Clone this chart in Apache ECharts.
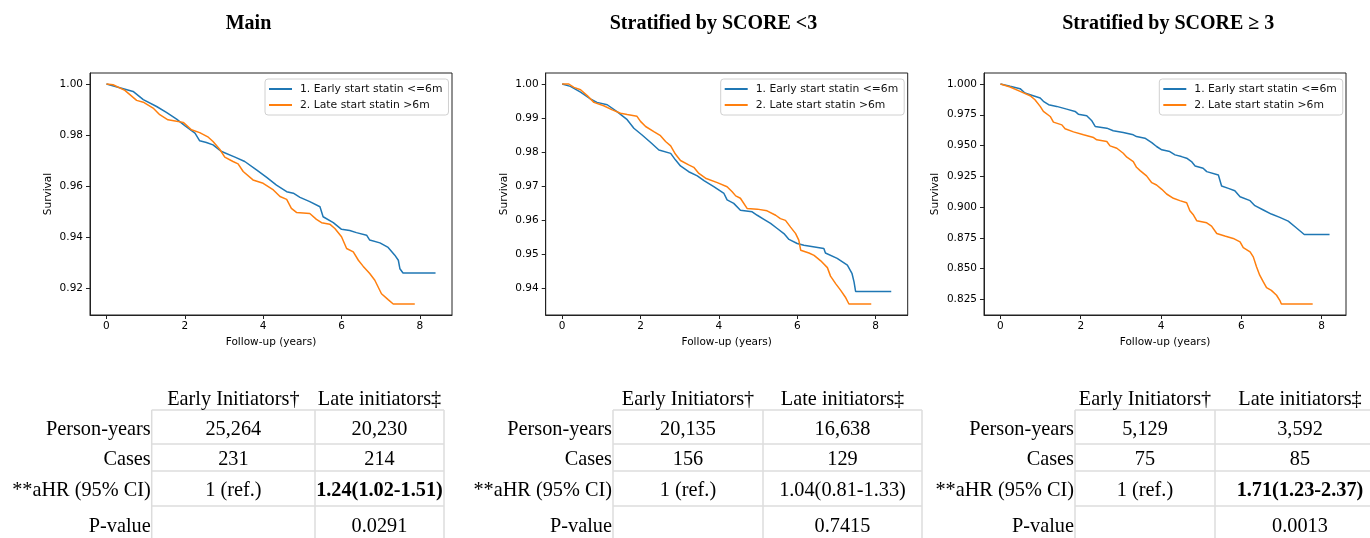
<!DOCTYPE html>
<html><head><meta charset="utf-8">
<script src="https://cdn.jsdelivr.net/npm/echarts@6/dist/echarts.min.js"></script>
<style>html,body{margin:0;padding:0;background:#fff}#c{width:1370px;height:538px}</style>
</head><body><div id="c"></div>
<script>
// ---------- data ----------
const panelTitles = ['Main', 'Stratified by SCORE <3', 'Stratified by SCORE \u2265 3'];
const seriesNames = ['1. Early start statin <=6m', '2. Late start statin >6m'];
const xAxisTitle = 'Follow-up (years)';
const yAxisTitle = 'Survival';
const xTicks = [0, 2, 4, 6, 8];
const mainYTicks = [0.92, 0.94, 0.96, 0.98, 1.00];
const lt3YTicks = [0.94, 0.95, 0.96, 0.97, 0.98, 0.99, 1.00];
const ge3YTicks = [0.825, 0.850, 0.875, 0.900, 0.925, 0.950, 0.975, 1.000];

// Main
const mainEarlyT = [0,0.68,0.94,1.28,1.53,1.79,2.0,2.26,2.38,2.55,2.72,2.94,3.28,3.53,3.83,4.09,4.34,4.6,4.77,4.94,5.19,5.45,5.53,5.79,6.0,6.21,6.38,6.64,6.72,6.98,7.19,7.36,7.45,7.49,7.57,8.4];
const mainEarlyS = [1.0,0.9971,0.9939,0.9912,0.9889,0.9863,0.9837,0.9808,0.9778,0.9771,0.9762,0.9736,0.9714,0.9697,0.9664,0.9635,0.9605,0.9579,0.9573,0.9557,0.9540,0.9520,0.9481,0.9458,0.9432,0.9427,0.9419,0.9409,0.9390,0.9379,0.9361,0.9331,0.9311,0.9278,0.9261,0.9261];
const mainLateT = [0,0.17,0.47,0.77,0.94,1.19,1.36,1.57,1.79,1.96,2.17,2.38,2.6,2.72,2.89,3.02,3.23,3.36,3.49,3.74,4.0,4.26,4.43,4.6,4.72,4.85,5.19,5.36,5.49,5.7,5.83,6.0,6.13,6.3,6.43,6.55,6.72,6.85,7.02,7.19,7.32,7.87];
const mainLateS = [1.0,0.9997,0.9975,0.9936,0.9929,0.9906,0.9880,0.9860,0.9854,0.9850,0.9821,0.9810,0.9792,0.9775,0.9745,0.9714,0.9697,0.9688,0.9658,0.9625,0.9612,0.9586,0.9560,0.9549,0.9514,0.9498,0.9494,0.9471,0.9458,0.9452,0.9435,0.9403,0.9357,0.9344,0.9311,0.9288,0.9259,0.9233,0.9180,0.9157,0.9140,0.9140];

// SCORE < 3
const lt3EarlyT = [0,0.21,0.47,0.72,0.89,1.15,1.40,1.66,1.83,2.04,2.26,2.47,2.77,2.89,3.02,3.23,3.45,3.62,3.87,4.13,4.21,4.38,4.55,4.85,4.98,5.15,5.32,5.49,5.66,5.79,6.0,6.17,6.68,6.72,7.02,7.28,7.4,7.45,7.49,8.4];
const lt3EarlyS = [1.0,0.9993,0.9976,0.9956,0.9946,0.9939,0.9919,0.9895,0.9870,0.9850,0.9828,0.9806,0.9796,0.9777,0.9759,0.9742,0.9730,0.9716,0.9698,0.9678,0.9659,0.9649,0.9629,0.9624,0.9614,0.9602,0.9590,0.9575,0.9560,0.9543,0.9531,0.9526,0.9516,0.9503,0.9487,0.9467,0.9442,0.9418,0.9390,0.9390];
const lt3LateT = [0,0.17,0.30,0.47,0.64,0.81,1.06,1.28,1.49,1.66,1.91,2.0,2.13,2.34,2.51,2.64,2.77,2.89,3.02,3.23,3.36,3.49,3.66,3.96,4.21,4.34,4.43,4.55,4.72,4.98,5.23,5.45,5.57,5.70,5.83,5.96,6.04,6.09,6.30,6.43,6.60,6.77,6.85,6.98,7.11,7.23,7.32,7.89];
const lt3LateS = [1.0,1.0,0.9990,0.9983,0.9966,0.9946,0.9936,0.9924,0.9914,0.9910,0.9905,0.9890,0.9875,0.9860,0.9848,0.9831,0.9818,0.9794,0.9775,0.9762,0.9755,0.9737,0.9723,0.9710,0.9698,0.9683,0.9671,0.9664,0.9634,0.9632,0.9627,0.9614,0.9604,0.9599,0.9579,0.9560,0.9541,0.9511,0.9503,0.9496,0.9480,0.9460,0.9435,0.9413,0.9393,0.9373,0.9353,0.9353];

// SCORE >= 3
const ge3EarlyT = [0,0.24,0.49,0.61,0.74,0.99,1.07,1.20,1.40,1.65,1.86,1.94,2.15,2.27,2.36,2.65,2.81,3.06,3.31,3.39,3.60,3.77,3.89,4.02,4.22,4.35,4.51,4.64,4.76,4.85,5.05,5.14,5.43,5.51,5.68,5.84,5.97,6.22,6.34,6.55,6.75,6.96,7.17,7.34,7.57,8.2];
const ge3EarlyS = [1.0,0.9981,0.9962,0.9927,0.9913,0.9886,0.9859,0.9832,0.9818,0.9796,0.9777,0.9755,0.9742,0.9704,0.9655,0.9641,0.9620,0.9606,0.9587,0.9573,0.9560,0.9524,0.9492,0.9465,0.9451,0.9424,0.9410,0.9397,0.9370,0.9334,0.9315,0.9288,0.9261,0.9171,0.9152,0.9133,0.9084,0.9052,0.9011,0.8976,0.8943,0.8916,0.8886,0.8840,0.8777,0.8777];
const ge3LateT = [0,0.24,0.49,0.74,0.86,0.99,1.07,1.24,1.32,1.53,1.61,1.82,2.07,2.32,2.40,2.65,2.73,2.90,3.06,3.15,3.31,3.39,3.48,3.64,3.77,3.89,4.02,4.14,4.31,4.47,4.64,4.72,4.81,4.89,5.14,5.26,5.39,5.59,5.80,5.97,6.05,6.22,6.30,6.38,6.46,6.55,6.63,6.75,6.88,6.96,7.00,7.78];
const ge3LateS = [1.0,0.9976,0.9940,0.9905,0.9872,0.9818,0.9777,0.9736,0.9690,0.9668,0.9636,0.9611,0.9587,0.9565,0.9546,0.9533,0.9497,0.9478,0.9437,0.9405,0.9370,0.9323,0.9296,0.9253,0.9198,0.9179,0.9144,0.9106,0.9071,0.9052,0.9035,0.8970,0.8935,0.8889,0.8872,0.8845,0.8785,0.8764,0.8745,0.8717,0.8671,0.8636,0.8595,0.8514,0.8446,0.8391,0.8345,0.8323,0.8283,0.8242,0.8212,0.8212];

// tables
const rowLabels = ['Person-years', 'Cases', '**aHR (95% CI)', 'P-value'];
const colHeaders = ['Early Initiators\u2020', 'Late initiators\u2021'];
const mainEarlyCol = ['25,264', '231', '1 (ref.)', ''];
const mainLateCol = ['20,230', '214', '1.24(1.02-1.51)', '0.0291'];
const lt3EarlyCol = ['20,135', '156', '1 (ref.)', ''];
const lt3LateCol = ['16,638', '129', '1.04(0.81-1.33)', '0.7415'];
const ge3EarlyCol = ['5,129', '75', '1 (ref.)', ''];
const ge3LateCol = ['3,592', '85', '1.71(1.23-2.37)', '0.0013'];
const boldAHR = [true, false, true];

// ---------- build ----------
const panels = [
  {early: [mainEarlyT, mainEarlyS], late: [mainLateT, mainLateS], yTicks: mainYTicks, dec: 2},
  {early: [lt3EarlyT, lt3EarlyS], late: [lt3LateT, lt3LateS], yTicks: lt3YTicks, dec: 2},
  {early: [ge3EarlyT, ge3EarlyS], late: [ge3LateT, ge3LateS], yTicks: ge3YTicks, dec: 3}
];
const tables = [
  [mainEarlyCol, mainLateCol], [lt3EarlyCol, lt3LateCol], [ge3EarlyCol, ge3LateCol]
];

// layout (pixels)
const gridLeft = [90, 545.7, 984];
const gridTop = 73, gridW = 362, gridH = 242;
const legendLeft = [265, 720.7, 1159.3];
const titleX = [248.5, 713.5, 1168.3];
const nameGapY = [36, 36, 43];
const tblX = [[151.7, 315, 444], [613, 763, 922], [1075, 1215, 1385]];
const rowY = [429.5, 460, 490.5, 527];
const lineY = [410, 444, 471, 506];
const headerY = 400;

const BLUE = '#1f77b4', ORANGE = '#ff7f0e';
const zip = (t, s) => t.slice(0, Math.min(t.length, s.length)).map((v, i) => [v, s[i]]);
function padRange(arrs) {
  let lo = Infinity, hi = -Infinity;
  arrs.forEach(a => a.forEach(v => { lo = Math.min(lo, v); hi = Math.max(hi, v); }));
  const p = (hi - lo) * 0.05;
  return [lo - p, hi + p];
}

const grid = [], xAxis = [], yAxis = [], series = [], legend = [], graphic = [];
const axisFont = {fontFamily: 'DejaVu Sans', fontSize: 10.5, color: '#000'};

panels.forEach((p, i) => {
  const xr = padRange([p.early[0], p.late[0]]);
  const yr = padRange([p.early[1], p.late[1]]);
  grid.push({left: gridLeft[i], top: gridTop, width: gridW, height: gridH, show: true,
    borderColor: '#222', borderWidth: 1, backgroundColor: 'transparent', containLabel: false});
  xAxis.push({type: 'value', gridIndex: i, min: xr[0], max: xr[1],
    name: xAxisTitle, nameLocation: 'middle', nameGap: 22, nameTextStyle: axisFont,
    axisLine: {show: true, onZero: false, lineStyle: {color: '#222', width: 1}},
    axisTick: {show: true, length: 4, lineStyle: {color: '#222'}, customValues: xTicks},
    axisLabel: Object.assign({margin: 6, customValues: xTicks, formatter: v => String(Math.round(v))}, axisFont),
    splitLine: {show: false}});
  yAxis.push({type: 'value', gridIndex: i, min: yr[0], max: yr[1],
    name: yAxisTitle, nameLocation: 'middle', nameGap: nameGapY[i], nameRotate: 90, nameTextStyle: axisFont,
    axisLine: {show: true, onZero: false, lineStyle: {color: '#222', width: 1}},
    axisTick: {show: true, length: 4, lineStyle: {color: '#222'}, customValues: p.yTicks},
    axisLabel: Object.assign({margin: 7, customValues: p.yTicks, formatter: v => v.toFixed(p.dec)}, axisFont),
    splitLine: {show: false}});
  series.push({type: 'line', name: seriesNames[0], xAxisIndex: i, yAxisIndex: i,
    data: zip(p.early[0], p.early[1]), showSymbol: false, symbol: 'none', color: BLUE,
    lineStyle: {color: BLUE, width: 1.5}, animation: false, z: 3});
  series.push({type: 'line', name: seriesNames[1], xAxisIndex: i, yAxisIndex: i,
    data: zip(p.late[0], p.late[1]), showSymbol: false, symbol: 'none', color: ORANGE,
    lineStyle: {color: ORANGE, width: 1.5}, animation: false, z: 3});
  legend.push({orient: 'vertical', left: legendLeft[i], top: 79, data: seriesNames,
    icon: 'rect', itemWidth: 23, itemHeight: 2, itemGap: 2,
    backgroundColor: 'rgba(255,255,255,0.85)', borderColor: '#d0d0d0', borderWidth: 1, borderRadius: 3,
    padding: [3, 6, 3, 4], selectedMode: false,
    textStyle: {fontFamily: 'DejaVu Sans', fontSize: 10.8, color: '#111', lineHeight: 14, padding: [0, 0, 0, 3]}});

  // title
  graphic.push({type: 'text', x: titleX[i], y: 24, silent: true,
    style: {text: panelTitles[i], align: 'center', verticalAlign: 'middle', textAlign: 'center', textVerticalAlign: 'middle',
      fontFamily: 'Liberation Serif', fontSize: 20, fontWeight: 'bold', fill: '#000'}});

  // table
  const [lx, mx, rx] = tblX[i];
  const lineStyle = {stroke: '#dcdcdc', lineWidth: 1.5};
  lineY.forEach(y => graphic.push({type: 'line', silent: true, shape: {x1: lx, y1: y, x2: rx, y2: y}, style: lineStyle}));
  [lx, mx, rx].forEach(x => graphic.push({type: 'line', silent: true, shape: {x1: x, y1: lineY[0], x2: x, y2: 560}, style: lineStyle}));
  const serif = {fontFamily: 'Liberation Serif', fontSize: 20.3, fill: '#000', verticalAlign: 'middle', textVerticalAlign: 'middle'};
  graphic.push({type: 'text', x: (lx + mx) / 2, y: headerY, silent: true, style: Object.assign({text: colHeaders[0], align: 'center', textAlign: 'center'}, serif)});
  graphic.push({type: 'text', x: (mx + rx) / 2, y: headerY, silent: true, style: Object.assign({text: colHeaders[1], align: 'center', textAlign: 'center'}, serif)});
  rowLabels.forEach((lab, r) => {
    graphic.push({type: 'text', x: lx - 1, y: rowY[r], silent: true, style: Object.assign({text: lab, align: 'right', textAlign: 'right'}, serif)});
    const cols = tables[i];
    cols.forEach((col, c) => {
      const cx = c === 0 ? (lx + mx) / 2 : (mx + rx) / 2;
      const bold = (r === 2 && c === 1 && boldAHR[i]);
      graphic.push({type: 'text', x: cx, y: rowY[r], silent: true,
        style: Object.assign({text: col[r], align: 'center', textAlign: 'center', fontWeight: bold ? 'bold' : 'normal'}, serif)});
    });
  });
});

const chart = echarts.init(document.getElementById('c'), null, {renderer: 'canvas'});
chart.setOption({animation: false, backgroundColor: '#fff', grid, xAxis, yAxis, series, legend, graphic});
</script></body></html>
